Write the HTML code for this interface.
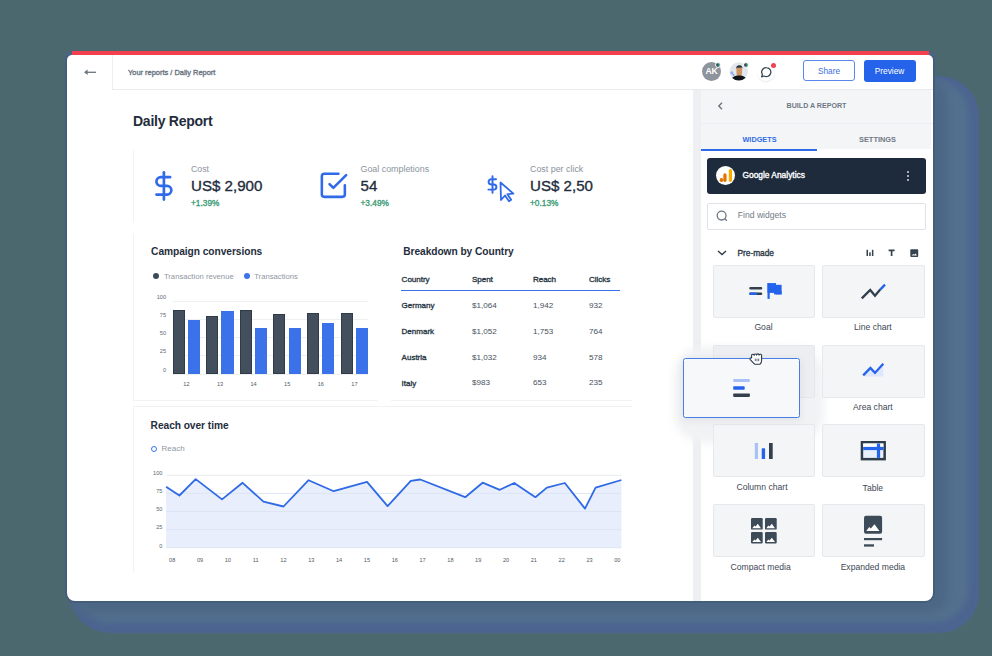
<!DOCTYPE html>
<html><head><meta charset="utf-8">
<style>
*{margin:0;padding:0;box-sizing:border-box}
html,body{width:992px;height:656px;overflow:hidden;background:#4c686f;font-family:"Liberation Sans",sans-serif}
.a{position:absolute}
.t{position:absolute;white-space:nowrap;line-height:1}
svg{position:absolute;overflow:visible}
</style></head><body>
<div class="a" style="left:70px;top:76px;width:909px;height:557px;border-radius:40px;background:#4b6590;filter:blur(0.6px)"></div>
<div class="a" style="left:76px;top:80px;width:892px;height:542px;border-radius:34px;background:#53718e;filter:blur(3px)"></div>
<div class="a" style="left:70px;top:80px;width:878px;height:534px;border-radius:18px;background:#4c6786;filter:blur(4px)"></div>
<div class="a" style="left:65px;top:51px;width:8px;height:8px;border-radius:6px 0 0 0;background:#4a6483"></div>
<div class="a" style="left:927px;top:51px;width:8px;height:8px;border-radius:0 6px 0 0;background:#4a6483"></div>
<div class="a" style="left:67px;top:55px;width:866px;height:546px;border-radius:5px 5px 8px 8px;background:#fff;box-shadow:-2px 0 0 0 #445d7b,2px 0 0 0 #445d7b,0 2px 0 0 #445d7b"></div>
<div class="a" style="left:71.5px;top:51px;width:857.5px;height:4px;background:#f2404f"></div>
<div class="a" style="left:112px;top:89px;width:581px;height:1px;background:#e9ebee;"></div>
<div class="a" style="left:693px;top:89px;width:240px;height:1px;background:#e9ebee;"></div>
<div class="a" style="left:112px;top:55px;width:1px;height:34px;background:#eceef0;"></div>
<svg style="left:83px;top:67px" width="14" height="10" viewBox="0 0 14 10"><path d="M3.5 5.3H13" stroke="#6b7682" stroke-width="1.3"/><path d="M1 5.3L4.6 2.6V8z" fill="#6b7682"/></svg>
<div class="t" style="left:128.00px;top:69.29px;font-size:7.45px;color:#6b7581;-webkit-text-stroke:0.35px #6b7581;">Your reports / Daily Report</div>
<div class="a" style="left:702px;top:62px;width:19px;height:19px;border-radius:50%;background:#8d949c;color:#fff;font-size:8.6px;font-weight:bold;letter-spacing:-0.3px;text-align:center;line-height:19px">AK</div>
<div class="a" style="left:715.4px;top:61.8px;width:6px;height:6px;border-radius:50%;background:#3a4a5a;border:1px solid #fff;box-shadow:inset -1.2px 0 0 #3fc08a"></div>
<svg style="left:729px;top:62px" width="20" height="20" viewBox="0 0 20 20"><defs><clipPath id="av"><circle cx="9.8" cy="9.4" r="9.2"/></clipPath></defs><g clip-path="url(#av)"><rect width="20" height="20" fill="#e3e6ea"/><circle cx="2.8" cy="10.8" r="1.5" fill="#8fb0f0"/><circle cx="4.4" cy="12.8" r="1" fill="#6f98ee"/><path d="M7.4 5.8C7.6 4.2 8.8 3.6 10.3 3.7 12 3.8 13.1 4.8 13.1 6.6L13 11.4C12.8 13.3 11.6 14.4 10.2 14.4 8.7 14.4 7.6 13.3 7.5 11.6z" fill="#cf9463"/><path d="M7.3 6.6C7.1 4.4 8.5 3.3 10.4 3.3 12.4 3.3 13.6 4.3 13.4 6.8L12.8 5.5 8.2 5.7z" fill="#22303f"/><path d="M1 20C1.6 15.8 5.2 13.4 10 13.4 14.8 13.4 18.4 15.6 19 20z" fill="#0f1318"/></g></svg>
<div class="a" style="left:742.6px;top:61.8px;width:6px;height:6px;border-radius:50%;background:#3a4a5a;border:1px solid #fff;box-shadow:inset -1.2px 0 0 #3fc08a"></div>
<div class="a" style="left:757px;top:63px;width:18px;height:18px;border-radius:50%;box-shadow:0 1.5px 1px rgba(120,130,140,.12)"></div>
<svg style="left:760px;top:65.5px" width="13" height="13" viewBox="0 0 13 13"><path d="M6.4 1.6a4.5 4.5 0 1 1-2.3 8.4L1.7 10.8l.7-2.3A4.5 4.5 0 0 1 6.4 1.6z" fill="none" stroke="#34434f" stroke-width="1.25" stroke-linejoin="round"/></svg>
<div class="a" style="left:770.5px;top:62.5px;width:5.2px;height:5.2px;border-radius:50%;background:#f2404f"></div>
<div class="a" style="left:803px;top:60px;width:52px;height:21px;border:1px solid #5b86ea;border-radius:3px"></div>
<div class="t" style="left:803.00px;top:66.97px;font-size:8.3px;color:#3c6fe0;width:52px;text-align:center;">Share</div>
<div class="a" style="left:863.5px;top:60px;width:52px;height:21.5px;border-radius:3px;background:#2563eb"></div>
<div class="t" style="left:863.50px;top:66.97px;font-size:8.3px;color:#fff;width:52px;text-align:center;">Preview</div>
<div class="t" style="left:133.00px;top:114.35px;font-size:14px;color:#1f2d3d;font-weight:bold;letter-spacing:-0.25px;">Daily Report</div>
<div class="a" style="left:133px;top:150px;width:1px;height:72px;background:#f1f2f4;"></div>
<svg style="left:148.6px;top:171px" width="29.8" height="29.8" viewBox="0 0 24 24"><g fill="none" stroke="#2f6be8" stroke-width="2.15" stroke-linecap="round" stroke-linejoin="round"><line x1="12" y1="1" x2="12" y2="23"/><path d="M17 5H9.5a3.5 3.5 0 0 0 0 7h5a3.5 3.5 0 0 1 0 7H6"/></g></svg>
<div class="t" style="left:191.00px;top:165.29px;font-size:8.75px;color:#8a939d;">Cost</div>
<div class="t" style="left:191.00px;top:177.62px;font-size:15.1px;color:#1f2d3d;-webkit-text-stroke:0.35px #1f2d3d;">US$ 2,900</div>
<div class="t" style="left:191.00px;top:198.57px;font-size:8.3px;color:#3d9c77;-webkit-text-stroke:0.35px #3d9c77;">+1.39%</div>
<svg style="left:317.5px;top:170.4px" width="30.7" height="30.7" viewBox="0 0 24 24"><g fill="none" stroke="#2f6be8" stroke-width="2.0" stroke-linecap="round" stroke-linejoin="round"><polyline points="9 11 12 14 22 4"/><path d="M21 12v7a2 2 0 0 1-2 2H5a2 2 0 0 1-2-2V5a2 2 0 0 1 2-2h11"/></g></svg>
<div class="t" style="left:360.50px;top:165.27px;font-size:8.9px;color:#8a939d;">Goal completions</div>
<div class="t" style="left:360.50px;top:177.62px;font-size:15.1px;color:#1f2d3d;-webkit-text-stroke:0.35px #1f2d3d;">54</div>
<div class="t" style="left:360.50px;top:198.57px;font-size:8.3px;color:#3d9c77;-webkit-text-stroke:0.35px #3d9c77;">+3.49%</div>
<svg style="left:480px;top:170px" width="40" height="40" viewBox="0 0 40 40"><g fill="none" stroke="#2f6be8" stroke-linecap="round" stroke-linejoin="round"><path stroke-width="1.95" d="M12.5 6.2v16.6M16 9.2h-4.8a2.6 2.6 0 0 0 0 5.2h2.6a2.6 2.6 0 0 1 0 5.2H8.4"/><path stroke-width="1.8" d="M20.5 12.5L21 30l4-4.5 4 5.8 2.2-1.5-3.8-5.6 6-.6z"/></g></svg>
<div class="t" style="left:530.00px;top:165.27px;font-size:8.9px;color:#8a939d;">Cost per click</div>
<div class="t" style="left:530.00px;top:177.62px;font-size:15.1px;color:#1f2d3d;-webkit-text-stroke:0.35px #1f2d3d;">US$ 2,50</div>
<div class="t" style="left:530.00px;top:198.57px;font-size:8.3px;color:#3d9c77;-webkit-text-stroke:0.35px #3d9c77;">+0.13%</div>
<div class="a" style="left:133px;top:234px;width:1px;height:166px;background:#f1f2f4;"></div>
<div class="t" style="left:151.10px;top:246.87px;font-size:10.2px;color:#1f2d3d;font-weight:bold;letter-spacing:-0.05px;">Campaign conversions</div>
<div class="a" style="left:152.8px;top:273.4px;width:6px;height:6px;border-radius:50%;background:#3d4a58"></div>
<div class="t" style="left:163.90px;top:272.78px;font-size:7.7px;color:#8f979f;">Transaction revenue</div>
<div class="a" style="left:243.9px;top:273.4px;width:6px;height:6px;border-radius:50%;background:#3c74ea"></div>
<div class="t" style="left:254.20px;top:272.78px;font-size:7.7px;color:#8f979f;">Transactions</div>
<div class="a" style="left:172.5px;top:373.5px;width:195px;height:1px;background:#eef0f2;"></div>
<div class="t" style="left:146.00px;top:367.66px;font-size:5.6px;color:#5d6873;width:20px;text-align:right;">0</div>
<div class="a" style="left:172.5px;top:355.0px;width:195px;height:1px;background:#eef0f2;"></div>
<div class="t" style="left:146.00px;top:349.41px;font-size:5.6px;color:#5d6873;width:20px;text-align:right;">25</div>
<div class="a" style="left:172.5px;top:337.0px;width:195px;height:1px;background:#eef0f2;"></div>
<div class="t" style="left:146.00px;top:331.16px;font-size:5.6px;color:#5d6873;width:20px;text-align:right;">50</div>
<div class="a" style="left:172.5px;top:318.5px;width:195px;height:1px;background:#eef0f2;"></div>
<div class="t" style="left:146.00px;top:312.91px;font-size:5.6px;color:#5d6873;width:20px;text-align:right;">75</div>
<div class="a" style="left:172.5px;top:300.5px;width:195px;height:1px;background:#eef0f2;"></div>
<div class="t" style="left:146.00px;top:294.66px;font-size:5.6px;color:#5d6873;width:20px;text-align:right;">100</div>
<div class="a" style="left:172.50px;top:309.89px;width:12.2px;height:63.91px;background:#434f5c;border:1px solid #2f3b47"></div>
<div class="a" style="left:187.80px;top:319.67px;width:12.2px;height:54.13px;background:#3b72e9"></div>
<div class="t" style="left:176.40px;top:381.86px;font-size:5.6px;color:#4f5a66;width:20px;text-align:center;">12</div>
<div class="a" style="left:206.10px;top:315.66px;width:12.2px;height:58.14px;background:#434f5c;border:1px solid #2f3b47"></div>
<div class="a" style="left:221.40px;top:310.84px;width:12.2px;height:62.96px;background:#3b72e9"></div>
<div class="t" style="left:210.00px;top:381.86px;font-size:5.6px;color:#4f5a66;width:20px;text-align:center;">13</div>
<div class="a" style="left:239.70px;top:309.89px;width:12.2px;height:63.91px;background:#434f5c;border:1px solid #2f3b47"></div>
<div class="a" style="left:255.00px;top:327.70px;width:12.2px;height:46.10px;background:#3b72e9"></div>
<div class="t" style="left:243.60px;top:381.86px;font-size:5.6px;color:#4f5a66;width:20px;text-align:center;">14</div>
<div class="a" style="left:273.30px;top:313.90px;width:12.2px;height:59.89px;background:#434f5c;border:1px solid #2f3b47"></div>
<div class="a" style="left:288.60px;top:327.70px;width:12.2px;height:46.10px;background:#3b72e9"></div>
<div class="t" style="left:277.20px;top:381.86px;font-size:5.6px;color:#4f5a66;width:20px;text-align:center;">15</div>
<div class="a" style="left:306.90px;top:312.59px;width:12.2px;height:61.21px;background:#434f5c;border:1px solid #2f3b47"></div>
<div class="a" style="left:322.20px;top:323.10px;width:12.2px;height:50.70px;background:#3b72e9"></div>
<div class="t" style="left:310.80px;top:381.86px;font-size:5.6px;color:#4f5a66;width:20px;text-align:center;">16</div>
<div class="a" style="left:340.50px;top:312.59px;width:12.2px;height:61.21px;background:#434f5c;border:1px solid #2f3b47"></div>
<div class="a" style="left:355.80px;top:327.70px;width:12.2px;height:46.10px;background:#3b72e9"></div>
<div class="t" style="left:344.40px;top:381.86px;font-size:5.6px;color:#4f5a66;width:20px;text-align:center;">17</div>
<div class="t" style="left:403.20px;top:246.67px;font-size:10.2px;color:#1f2d3d;font-weight:bold;letter-spacing:-0.05px;">Breakdown by Country</div>
<div class="t" style="left:401.60px;top:276.24px;font-size:8.1px;color:#2b3947;-webkit-text-stroke:0.35px #2b3947;letter-spacing:-0.05px;">Country</div>
<div class="t" style="left:471.90px;top:276.24px;font-size:8.1px;color:#2b3947;-webkit-text-stroke:0.35px #2b3947;letter-spacing:-0.05px;">Spent</div>
<div class="t" style="left:532.90px;top:276.24px;font-size:8.1px;color:#2b3947;-webkit-text-stroke:0.35px #2b3947;letter-spacing:-0.05px;">Reach</div>
<div class="t" style="left:589.00px;top:276.24px;font-size:8.1px;color:#2b3947;-webkit-text-stroke:0.35px #2b3947;letter-spacing:-0.05px;">Clicks</div>
<div class="a" style="left:401px;top:290px;width:219px;height:1.3px;background:#3b72e9;"></div>
<div class="t" style="left:401.60px;top:301.83px;font-size:8.0px;color:#2b3947;-webkit-text-stroke:0.35px #2b3947;">Germany</div>
<div class="t" style="left:471.90px;top:301.74px;font-size:8.1px;color:#47525e;">$1,064</div>
<div class="t" style="left:532.90px;top:301.74px;font-size:8.1px;color:#47525e;">1,942</div>
<div class="t" style="left:589.00px;top:301.74px;font-size:8.1px;color:#47525e;">932</div>
<div class="t" style="left:401.60px;top:327.73px;font-size:8.0px;color:#2b3947;-webkit-text-stroke:0.35px #2b3947;">Denmark</div>
<div class="t" style="left:471.90px;top:327.64px;font-size:8.1px;color:#47525e;">$1,052</div>
<div class="t" style="left:532.90px;top:327.64px;font-size:8.1px;color:#47525e;">1,753</div>
<div class="t" style="left:589.00px;top:327.64px;font-size:8.1px;color:#47525e;">764</div>
<div class="t" style="left:401.60px;top:353.63px;font-size:8.0px;color:#2b3947;-webkit-text-stroke:0.35px #2b3947;">Austria</div>
<div class="t" style="left:471.90px;top:353.54px;font-size:8.1px;color:#47525e;">$1,032</div>
<div class="t" style="left:532.90px;top:353.54px;font-size:8.1px;color:#47525e;">934</div>
<div class="t" style="left:589.00px;top:353.54px;font-size:8.1px;color:#47525e;">578</div>
<div class="t" style="left:401.60px;top:379.53px;font-size:8.0px;color:#2b3947;-webkit-text-stroke:0.35px #2b3947;">Italy</div>
<div class="t" style="left:471.90px;top:379.44px;font-size:8.1px;color:#47525e;">$983</div>
<div class="t" style="left:532.90px;top:379.44px;font-size:8.1px;color:#47525e;">653</div>
<div class="t" style="left:589.00px;top:379.44px;font-size:8.1px;color:#47525e;">235</div>
<div class="a" style="left:133px;top:400px;width:245px;height:1px;background:#f2f3f5;"></div>
<div class="a" style="left:391px;top:400px;width:241px;height:1px;background:#f2f3f5;"></div>
<div class="a" style="left:133px;top:406px;width:499px;height:1px;background:#f1f2f4;"></div>
<div class="a" style="left:133px;top:407px;width:1px;height:165px;background:#f1f2f4;"></div>
<div class="t" style="left:150.60px;top:420.77px;font-size:10.2px;color:#1f2d3d;font-weight:bold;letter-spacing:-0.05px;">Reach over time</div>
<div class="a" style="left:150.9px;top:445.9px;width:6px;height:6px;border-radius:50%;border:1.4px solid #3b72e9"></div>
<div class="t" style="left:161.50px;top:445.03px;font-size:8px;color:#8f979f;">Reach</div>
<svg style="left:160px;top:470px" width="470" height="90" viewBox="0 0 470 90"><path d="M6.1,77.7 L6.1,16.7 L19.4,25.5 L35.7,9.1 L62.0,29.4 L82.6,12.8 L103.5,31.7 L123.5,36.5 L148.6,10.2 L173.7,21.2 L207.0,11.9 L227.6,36.1 L250.8,10.8 L260.3,9.5 L305.2,27.2 L322.6,12.7 L339.8,19.8 L354.2,13.0 L375.4,27.2 L386.9,17.6 L404.8,13.0 L425.0,38.6 L435.6,17.6 L461.4,10.0 L461.4,77.7 Z" fill="#e8eefb"/><line x1="6.1" y1="77.7" x2="461.4" y2="77.7" stroke="#dde5f4" stroke-width="1"/><line x1="6.1" y1="59.6" x2="461.4" y2="59.6" stroke="#dde5f4" stroke-width="1"/><line x1="6.1" y1="41.5" x2="461.4" y2="41.5" stroke="#dde5f4" stroke-width="1"/><line x1="6.1" y1="23.4" x2="461.4" y2="23.4" stroke="#dde5f4" stroke-width="1"/><line x1="6.1" y1="5.3" x2="461.4" y2="5.3" stroke="#e9ecf0" stroke-width="1"/><polyline points="6.1,16.7 19.4,25.5 35.7,9.1 62.0,29.4 82.6,12.8 103.5,31.7 123.5,36.5 148.6,10.2 173.7,21.2 207.0,11.9 227.6,36.1 250.8,10.8 260.3,9.5 305.2,27.2 322.6,12.7 339.8,19.8 354.2,13.0 375.4,27.2 386.9,17.6 404.8,13.0 425.0,38.6 435.6,17.6 461.4,10.0" fill="none" stroke="#2f6ae6" stroke-width="1.8" stroke-linejoin="round"/></svg>
<div class="t" style="left:142.40px;top:543.56px;font-size:5.6px;color:#5d6873;width:20px;text-align:right;">0</div>
<div class="t" style="left:142.40px;top:525.46px;font-size:5.6px;color:#5d6873;width:20px;text-align:right;">25</div>
<div class="t" style="left:142.40px;top:507.36px;font-size:5.6px;color:#5d6873;width:20px;text-align:right;">50</div>
<div class="t" style="left:142.40px;top:489.26px;font-size:5.6px;color:#5d6873;width:20px;text-align:right;">75</div>
<div class="t" style="left:142.40px;top:471.16px;font-size:5.6px;color:#5d6873;width:20px;text-align:right;">100</div>
<div class="t" style="left:162.20px;top:558.26px;font-size:5.6px;color:#4f5a66;width:20px;text-align:center;">08</div>
<div class="t" style="left:190.02px;top:558.26px;font-size:5.6px;color:#4f5a66;width:20px;text-align:center;">09</div>
<div class="t" style="left:217.84px;top:558.26px;font-size:5.6px;color:#4f5a66;width:20px;text-align:center;">10</div>
<div class="t" style="left:245.66px;top:558.26px;font-size:5.6px;color:#4f5a66;width:20px;text-align:center;">11</div>
<div class="t" style="left:273.48px;top:558.26px;font-size:5.6px;color:#4f5a66;width:20px;text-align:center;">12</div>
<div class="t" style="left:301.30px;top:558.26px;font-size:5.6px;color:#4f5a66;width:20px;text-align:center;">13</div>
<div class="t" style="left:329.12px;top:558.26px;font-size:5.6px;color:#4f5a66;width:20px;text-align:center;">14</div>
<div class="t" style="left:356.94px;top:558.26px;font-size:5.6px;color:#4f5a66;width:20px;text-align:center;">15</div>
<div class="t" style="left:384.76px;top:558.26px;font-size:5.6px;color:#4f5a66;width:20px;text-align:center;">16</div>
<div class="t" style="left:412.58px;top:558.26px;font-size:5.6px;color:#4f5a66;width:20px;text-align:center;">17</div>
<div class="t" style="left:440.40px;top:558.26px;font-size:5.6px;color:#4f5a66;width:20px;text-align:center;">18</div>
<div class="t" style="left:468.22px;top:558.26px;font-size:5.6px;color:#4f5a66;width:20px;text-align:center;">19</div>
<div class="t" style="left:496.04px;top:558.26px;font-size:5.6px;color:#4f5a66;width:20px;text-align:center;">20</div>
<div class="t" style="left:523.86px;top:558.26px;font-size:5.6px;color:#4f5a66;width:20px;text-align:center;">21</div>
<div class="t" style="left:551.68px;top:558.26px;font-size:5.6px;color:#4f5a66;width:20px;text-align:center;">22</div>
<div class="t" style="left:579.50px;top:558.26px;font-size:5.6px;color:#4f5a66;width:20px;text-align:center;">23</div>
<div class="t" style="left:607.32px;top:558.26px;font-size:5.6px;color:#4f5a66;width:20px;text-align:center;">00</div>
<div class="a" style="left:693px;top:90px;width:8px;height:511px;background:#edeff2;"></div>
<div class="a" style="left:701px;top:90px;width:230px;height:58.5px;background:#f4f5f6;"></div>
<div class="a" style="left:674px;top:347px;width:150px;height:96px;border-radius:30px;background:#f1f2f4;filter:blur(4px)"></div>
<div class="a" style="left:701px;top:122.5px;width:232px;height:1px;background:#eceef1;"></div>
<div class="a" style="left:701px;top:149px;width:116px;height:2px;background:#2f6be8;"></div>
<svg style="left:717px;top:102px" width="7" height="8" viewBox="0 0 7 8"><path d="M5 0.8L1.8 4 5 7.2" fill="none" stroke="#6b7682" stroke-width="1.4"/></svg>
<div class="t" style="left:756.50px;top:103.19px;font-size:7.1px;color:#6e7884;font-weight:bold;width:120px;text-align:center;">BUILD A REPORT</div>
<div class="t" style="left:709.50px;top:136.22px;font-size:7.3px;color:#2f6be8;font-weight:bold;width:100px;text-align:center;">WIDGETS</div>
<div class="t" style="left:827.50px;top:136.14px;font-size:7.4px;color:#6e7884;font-weight:bold;width:100px;text-align:center;">SETTINGS</div>
<div class="a" style="left:707px;top:158.3px;width:218.5px;height:35.5px;border-radius:3px;background:#1e2b3c"></div>
<div class="a" style="left:715.7px;top:165.7px;width:19.6px;height:19.6px;border-radius:50%;background:#fff"></div>
<svg style="left:715px;top:165px" width="22" height="22" viewBox="0 0 22 22"><circle cx="6.5" cy="15" r="1.9" fill="#e37400"/><rect x="8.3" y="8.3" width="3.3" height="8.6" rx="1.6" fill="#e37400"/><rect x="13.8" y="3.9" width="3.2" height="13" rx="1.6" fill="#f9ab00"/></svg>
<div class="t" style="left:742.50px;top:171.49px;font-size:8.4px;color:#fff;-webkit-text-stroke:0.35px #fff;">Google Analytics</div>
<div class="a" style="left:907.2px;top:170.5px;width:2px;height:2px;border-radius:50%;background:#d5dae0"></div>
<div class="a" style="left:907.2px;top:174.8px;width:2px;height:2px;border-radius:50%;background:#d5dae0"></div>
<div class="a" style="left:907.2px;top:179.1px;width:2px;height:2px;border-radius:50%;background:#d5dae0"></div>
<div class="a" style="left:707px;top:203.2px;width:218.5px;height:26.6px;border-radius:2px;border:1px solid #dfe2e6;background:#fff"></div>
<svg style="left:715px;top:209px" width="14" height="14" viewBox="0 0 14 14"><circle cx="6.6" cy="6.6" r="4.4" fill="none" stroke="#6b7682" stroke-width="1.3"/><path d="M9.8 9.8L11.8 11.8" stroke="#6b7682" stroke-width="1.3"/></svg>
<div class="t" style="left:737.80px;top:211.32px;font-size:8.6px;color:#717b87;">Find widgets</div>
<svg style="left:717px;top:250px" width="10" height="6" viewBox="0 0 10 6"><path d="M1 1l4 3.6L9 1" fill="none" stroke="#2b3947" stroke-width="1.3"/></svg>
<div class="t" style="left:737.50px;top:248.57px;font-size:8.3px;color:#2b3947;-webkit-text-stroke:0.35px #2b3947;">Pre-made</div>
<svg style="left:866px;top:249px" width="8" height="8" viewBox="0 0 8 8"><rect x="0.5" y="0.8" width="1.5" height="6.2" fill="#34434f"/><rect x="3.2" y="3.4" width="1.5" height="3.6" fill="#34434f"/><rect x="5.9" y="0.8" width="1.5" height="6.2" fill="#34434f"/></svg>
<svg style="left:888px;top:249px" width="8" height="8" viewBox="0 0 8 8"><path d="M0.6 1.3H6.6M3.6 1.3V7" stroke="#34434f" stroke-width="1.7"/></svg>
<svg style="left:909.5px;top:248.5px" width="9" height="9" viewBox="0 0 9 9"><rect x="0.3" y="0.2" width="7.9" height="7.7" rx="1" fill="#34434f"/><path d="M1.6 6.6L3.3 5 4.3 5.8 5.6 4.4 7 6.6z" fill="#fff"/></svg>
<div class="a" style="left:712.7px;top:264.6px;width:102.5px;height:53px;border-radius:2px;border:1px solid #e6e8eb;background:#f4f5f6;"></div>
<div class="a" style="left:822.1px;top:264.6px;width:102.5px;height:53px;border-radius:2px;border:1px solid #e6e8eb;background:#f4f5f6;"></div>
<div class="t" style="left:713.50px;top:323.32px;font-size:8.6px;color:#3d4854;width:100px;text-align:center;">Goal</div>
<div class="t" style="left:822.90px;top:323.32px;font-size:8.6px;color:#3d4854;width:100px;text-align:center;">Line chart</div>
<div class="a" style="left:712.7px;top:345px;width:102.5px;height:53px;border-radius:2px;border:1px solid #e6e8eb;background:#f4f5f6;background:#eceef1;border-color:#e4e6e9"></div>
<div class="a" style="left:822.1px;top:345px;width:102.5px;height:53px;border-radius:2px;border:1px solid #e6e8eb;background:#f4f5f6;"></div>
<div class="t" style="left:822.90px;top:403.12px;font-size:8.6px;color:#3d4854;width:100px;text-align:center;">Area chart</div>
<div class="a" style="left:712.7px;top:424.3px;width:102.5px;height:53px;border-radius:2px;border:1px solid #e6e8eb;background:#f4f5f6;"></div>
<div class="a" style="left:822.1px;top:424.3px;width:102.5px;height:53px;border-radius:2px;border:1px solid #e6e8eb;background:#f4f5f6;"></div>
<div class="t" style="left:712.00px;top:483.02px;font-size:8.6px;color:#3d4854;width:100px;text-align:center;">Column chart</div>
<div class="t" style="left:822.90px;top:483.92px;font-size:8.6px;color:#3d4854;width:100px;text-align:center;">Table</div>
<div class="a" style="left:712.7px;top:503.8px;width:102.5px;height:53px;border-radius:2px;border:1px solid #e6e8eb;background:#f4f5f6;"></div>
<div class="a" style="left:822.1px;top:503.8px;width:102.5px;height:53px;border-radius:2px;border:1px solid #e6e8eb;background:#f4f5f6;"></div>
<div class="t" style="left:710.60px;top:562.52px;font-size:8.6px;color:#3d4854;width:100px;text-align:center;">Compact media</div>
<div class="t" style="left:822.90px;top:563.42px;font-size:8.6px;color:#3d4854;width:100px;text-align:center;">Expanded media</div>
<svg style="left:745px;top:280px" width="40" height="22" viewBox="0 0 40 22"><rect x="4.3" y="7.1" width="12.9" height="2.5" rx="1" fill="#333f4c"/><rect x="4.3" y="12.4" width="12.9" height="2.5" rx="1" fill="#333f4c"/><rect x="4.3" y="12.4" width="7.8" height="2.5" rx="1" fill="#2463eb"/><rect x="22.5" y="3.1" width="2.2" height="15.8" fill="#2463eb"/><rect x="22.5" y="3.1" width="8.5" height="9.8" fill="#2463eb"/><rect x="31" y="4.8" width="5.6" height="9.6" fill="#2463eb"/><rect x="29" y="11" width="7.6" height="3.4" fill="#2463eb"/></svg>
<svg style="left:855px;top:280px" width="36" height="24" viewBox="0 0 36 24"><polyline points="6.8,18.4 15.2,9.9 20,15.7 25.2,9.6" fill="none" stroke="#333f4c" stroke-width="2.3"/><line x1="25.2" y1="9.6" x2="30" y2="4.6" stroke="#2463eb" stroke-width="2.3"/></svg>
<svg style="left:855px;top:358px" width="36" height="24" viewBox="0 0 36 24"><path d="M8.2 17.4L15.4 9.9 20 14.9 28.3 5.8V18.4H9.5z" fill="#dfe7fa"/><polyline points="8.2,17.4 15.4,9.9 20,14.9 28.3,5.8" fill="none" stroke="#2463eb" stroke-width="2.3"/></svg>
<svg style="left:750px;top:440px" width="26" height="22" viewBox="0 0 26 22"><rect x="4.8" y="3" width="3.2" height="16" fill="#a9c1f5"/><rect x="11.7" y="8.3" width="3.4" height="10.7" rx=".6" fill="#2463eb"/><rect x="19" y="3" width="3.7" height="16" fill="#333f4c"/></svg>
<svg style="left:858px;top:438px" width="30" height="26" viewBox="0 0 30 26"><rect x="2.7" y="3" width="25.2" height="19.4" fill="#2f3d4b"/><rect x="5.2" y="5.5" width="20.2" height="14.4" fill="#e9effa"/><rect x="5.2" y="5.5" width="20.2" height="3.4" fill="#fff"/><rect x="5.2" y="8.9" width="20.2" height="3.2" fill="#2463eb"/><rect x="18.9" y="5.5" width="3.2" height="14.4" fill="#2463eb"/></svg>
<svg style="left:751px;top:517.9px" width="27" height="26" viewBox="0 0 27 26"><g transform="translate(0,0)"><rect x="0" y="0" width="11.7" height="11.6" rx="1.2" fill="#3d4a58"/><path d="M1.3 10.2L3.4 7.6 4.6 8.6 6.8 5.8 9.4 9.4 10.3 10.2z" fill="#fff"/></g><g transform="translate(14,0)"><rect x="0" y="0" width="11.7" height="11.6" rx="1.2" fill="#3d4a58"/><path d="M1.3 10.2L3.4 7.6 4.6 8.6 6.8 5.8 9.4 9.4 10.3 10.2z" fill="#fff"/></g><g transform="translate(0,13.9)"><rect x="0" y="0" width="11.7" height="11.6" rx="1.2" fill="#3d4a58"/><path d="M1.3 10.2L3.4 7.6 4.6 8.6 6.8 5.8 9.4 9.4 10.3 10.2z" fill="#fff"/></g><g transform="translate(14,13.9)"><rect x="0" y="0" width="11.7" height="11.6" rx="1.2" fill="#3d4a58"/><path d="M1.3 10.2L3.4 7.6 4.6 8.6 6.8 5.8 9.4 9.4 10.3 10.2z" fill="#fff"/></g></svg>
<svg style="left:860px;top:512px" width="26" height="38" viewBox="0 0 26 38"><rect x="4" y="3.8" width="18.1" height="18" rx="2" fill="#3d4a58"/><path d="M6.3 19L9.2 15.1 10.8 16.6 14.5 12.3 19.4 19z" fill="#fff"/><rect x="4" y="26" width="18.1" height="2.2" fill="#3d4a58"/><rect x="4" y="32.3" width="10" height="2.3" fill="#3d4a58"/></svg>
<div class="a" style="left:683px;top:357.5px;width:117px;height:60.5px;border-radius:2.5px;border:1.4px solid #4a7ce8;background:#f7f8f9;box-shadow:0 2px 6px 1px rgba(200,205,212,.35)"></div>
<svg style="left:730px;top:376px" width="24" height="24" viewBox="0 0 24 24"><rect x="3.2" y="3" width="16.7" height="3" rx="1" fill="#a9c1f5"/><rect x="3.2" y="10.3" width="11.5" height="3.5" rx=".8" fill="#2463eb"/><rect x="3.2" y="17.4" width="16.7" height="3.5" rx=".8" fill="#333f4c"/></svg>
<svg style="left:747.5px;top:351px" width="16" height="15" viewBox="0 0 16 15"><path d="M3.6 4.6a1.25 1.25 0 0 1 2.5 -0.2a1.25 1.25 0 0 1 2.5 -0.3a1.25 1.25 0 0 1 2.5 0.1a1.25 1.25 0 0 1 2.5 0.6V9.2C13.6 11 12.8 12.3 12 13.2H6.6C5.6 12.2 3.9 10.5 2.3 8.7 1.5 7.8 2.1 6.3 3.6 6.9z" fill="#fff" stroke="#2b3947" stroke-width="1.1" stroke-linejoin="round"/><path d="M7.3 7.6V10.2M9 7.6V10.2M10.7 7.6V10.2" stroke="#2b3947" stroke-width=".75"/></svg>
</body></html>
